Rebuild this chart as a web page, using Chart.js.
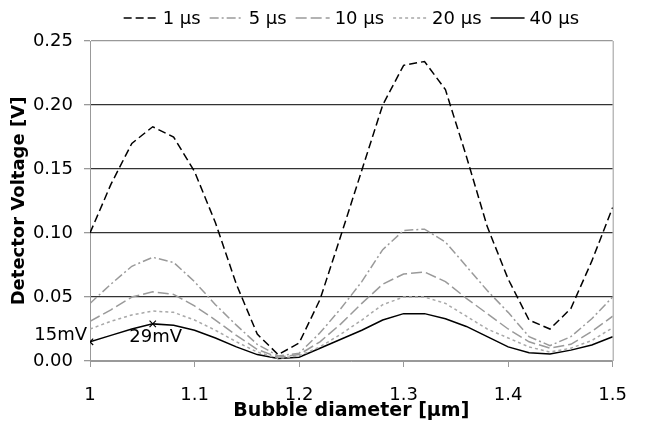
<!DOCTYPE html>
<html>
<head>
<meta charset="utf-8">
<script src="https://cdn.jsdelivr.net/npm/chart.js@4/dist/chart.umd.min.js"></script>
<style>
  html, body { margin: 0; padding: 0; background: #fff; }
  #wrap { width: 645px; height: 423px; }
</style>
</head>
<body>
<div id="wrap"><canvas id="voltageChart"></canvas></div>
<script>
// Bubble diameter [µm]
const diameters = [1.00, 1.02, 1.04, 1.06, 1.08, 1.10, 1.12, 1.14, 1.16, 1.18, 1.20, 1.22, 1.24,
  1.26, 1.28, 1.30, 1.32, 1.34, 1.36, 1.38, 1.40, 1.42, 1.44, 1.46, 1.48, 1.50];

const seriesNames = ["1 µs", "5 µs", "10 µs", "20 µs", "40 µs"];

// Detector voltage [V] for each pulse length
const v1us = [0.100, 0.138, 0.170, 0.183, 0.175, 0.148, 0.108, 0.060, 0.021, 0.005, 0.014, 0.048, 0.098,
  0.149, 0.200, 0.231, 0.234, 0.212, 0.160, 0.105, 0.064, 0.032, 0.025, 0.041, 0.078, 0.120];
const v5us = [0.045, 0.060, 0.074, 0.081, 0.077, 0.062, 0.044, 0.028, 0.013, 0.004, 0.006, 0.022, 0.041,
  0.062, 0.087, 0.102, 0.103, 0.093, 0.074, 0.055, 0.038, 0.019, 0.012, 0.019, 0.033, 0.050];
const v10us = [0.031, 0.040, 0.050, 0.054, 0.052, 0.043, 0.032, 0.020, 0.009, 0.003, 0.005, 0.015, 0.029,
  0.045, 0.060, 0.068, 0.0695, 0.062, 0.049, 0.037, 0.025, 0.015, 0.010, 0.013, 0.023, 0.035];
const v20us = [0.025, 0.031, 0.036, 0.039, 0.038, 0.032, 0.024, 0.015, 0.007, 0.002, 0.004, 0.011, 0.021,
  0.032, 0.044, 0.050, 0.050, 0.045, 0.035, 0.025, 0.018, 0.011, 0.007, 0.010, 0.016, 0.026];
const v40us = [0.015, 0.020, 0.025, 0.029, 0.028, 0.024, 0.018, 0.011, 0.005, 0.002, 0.003, 0.010, 0.017,
  0.024, 0.032, 0.037, 0.037, 0.033, 0.027, 0.019, 0.011, 0.0065, 0.0055, 0.0085, 0.0125, 0.019];

// marked points on the 40 µs curve
const markedDiameters = [1.00, 1.06];
const markedLabels = ["15mV", "29mV"];

const xTicks = [1, 1.1, 1.2, 1.3, 1.4, 1.5];
const xTickLabels = ["1", "1.1", "1.2", "1.3", "1.4", "1.5"];
const yTicks = [0, 0.05, 0.10, 0.15, 0.20, 0.25];
const yTickLabels = ["0.00", "0.05", "0.10", "0.15", "0.20", "0.25"];

const FONT = "'DejaVu Sans', Verdana, sans-serif";

function toPoints(values) {
  return values.map((v, i) => ({ x: diameters[i], y: v }));
}

const styles = [
  { color: "#000", dash: [8, 4], width: 1.5 },
  { color: "#9a9a9a", dash: [9, 3, 2, 3], width: 1.5 },
  { color: "#9a9a9a", dash: [11, 4], width: 1.5 },
  { color: "#a8a8a8", dash: [3, 3], width: 1.5 },
  { color: "#000", dash: [], width: 1.5 },
];

const allValues = [v1us, v5us, v10us, v20us, v40us];

const datasets = allValues.map((vals, i) => ({
  label: seriesNames[i],
  data: toPoints(vals),
  borderColor: styles[i].color,
  backgroundColor: styles[i].color,
  borderWidth: styles[i].width,
  borderDash: styles[i].dash,
  fill: false,
  tension: 0,
  pointRadius: 0,
}));

// show crosses on the 40 µs curve where the values are labelled
datasets[4].pointStyle = "crossRot";
datasets[4].pointBorderWidth = 1.2;
datasets[4].pointRadius = (ctx) =>
  markedDiameters.includes(diameters[ctx.dataIndex]) ? 4.5 : 0;

// Legend drawn by hand so the line samples keep their dashes
const lineLegend = {
  id: "lineLegend",
  afterDraw(chart) {
    const { ctx, chartArea } = chart;
    const sample = 34, textGap = 5, itemGap = 9;
    ctx.save();
    ctx.font = `18px ${FONT}`;
    ctx.textBaseline = "middle";
    ctx.textAlign = "left";
    const widths = chart.data.datasets.map((d) => sample + textGap + ctx.measureText(d.label).width);
    const total = widths.reduce((a, b) => a + b, 0) + itemGap * (widths.length - 1);
    let x = (chartArea.left + chartArea.right) / 2 - total / 2;
    const y = 18;
    chart.data.datasets.forEach((d, i) => {
      ctx.strokeStyle = d.borderColor;
      ctx.lineWidth = d.borderWidth;
      ctx.setLineDash(d.borderDash);
      ctx.beginPath();
      ctx.moveTo(x, y);
      ctx.lineTo(x + sample, y);
      ctx.stroke();
      ctx.setLineDash([]);
      ctx.fillStyle = "#000";
      ctx.fillText(d.label, x + sample + textGap, y + 1);
      x += widths[i] + itemGap;
    });
    ctx.restore();
  },
};

// "15mV" / "29mV" labels beside the crosses
const pointLabels = {
  id: "pointLabels",
  afterDatasetsDraw(chart) {
    const { ctx } = chart;
    const meta = chart.getDatasetMeta(4);
    ctx.save();
    ctx.font = `18px ${FONT}`;
    ctx.fillStyle = "#000";
    ctx.textBaseline = "middle";
    markedDiameters.forEach((d, k) => {
      const idx = diameters.indexOf(d);
      const pt = meta.data[idx];
      if (k === 0) {
        ctx.textAlign = "right";
        ctx.fillText(markedLabels[k], pt.x - 3, pt.y - 6);
      } else {
        ctx.textAlign = "center";
        ctx.fillText(markedLabels[k], pt.x + 3, pt.y + 13);
      }
    });
    ctx.restore();
  },
};

// thin grey frame on the right side of the plot
const plotFrame = {
  id: "plotFrame",
  beforeDatasetsDraw(chart) {
    const { ctx, chartArea } = chart;
    ctx.save();
    ctx.strokeStyle = "#999";
    ctx.lineWidth = 1;
    ctx.beginPath();
    ctx.moveTo(chartArea.right + 0.5, chartArea.top);
    ctx.lineTo(chartArea.right + 0.5, chartArea.bottom);
    ctx.stroke();
    ctx.restore();
  },
};

Chart.defaults.font.family = FONT;
Chart.defaults.color = "#000";

const ctx = document.getElementById("voltageChart").getContext("2d");

new Chart(ctx, {
  type: "line",
  data: { datasets },
  options: {
    responsive: true,
    maintainAspectRatio: false,
    animation: false,
    layout: { padding: { left: 0, right: 17, top: 41, bottom: 0 } },
    plugins: {
      legend: { display: false },
      tooltip: { enabled: false },
    },
    scales: {
      x: {
        type: "linear",
        min: 1,
        max: 1.5,
        afterBuildTicks: (scale) => {
          scale.ticks = xTicks.map((v) => ({ value: v }));
        },
        afterFit: (scale) => {
          scale.height = 62;
        },
        ticks: {
          font: { size: 18 },
          padding: 18,
          maxRotation: 0,
          callback: (v) => xTickLabels[xTicks.indexOf(v)],
        },
        grid: {
          drawOnChartArea: false,
          tickLength: 6,
          tickColor: "#999",
        },
        border: { color: "#999" },
        title: {
          display: true,
          text: "Bubble diameter [µm]",
          font: { size: 19, weight: "bold" },
          padding: { top: 0, bottom: 1 },
        },
      },
      y: {
        min: 0,
        max: 0.25,
        afterBuildTicks: (scale) => {
          scale.ticks = yTicks.map((v) => ({ value: v }));
        },
        afterFit: (scale) => {
          scale.width = 90;
        },
        ticks: {
          font: { size: 18 },
          padding: 11,
          callback: (v) => yTickLabels[yTicks.indexOf(v)],
        },
        grid: {
          color: (c) => (c.tick && (c.tick.value === 0 || c.tick.value === 0.25) ? "#999" : "#333"),
          lineWidth: 1.3,
          tickLength: 6,
          tickColor: "#999",
        },
        border: { color: "#999" },
        title: {
          display: true,
          text: "Detector Voltage [V]",
          font: { size: 18, weight: "bold" },
          padding: { top: 9, bottom: 0 },
        },
      },
    },
  },
  plugins: [plotFrame, pointLabels, lineLegend],
});
</script>
</body>
</html>
